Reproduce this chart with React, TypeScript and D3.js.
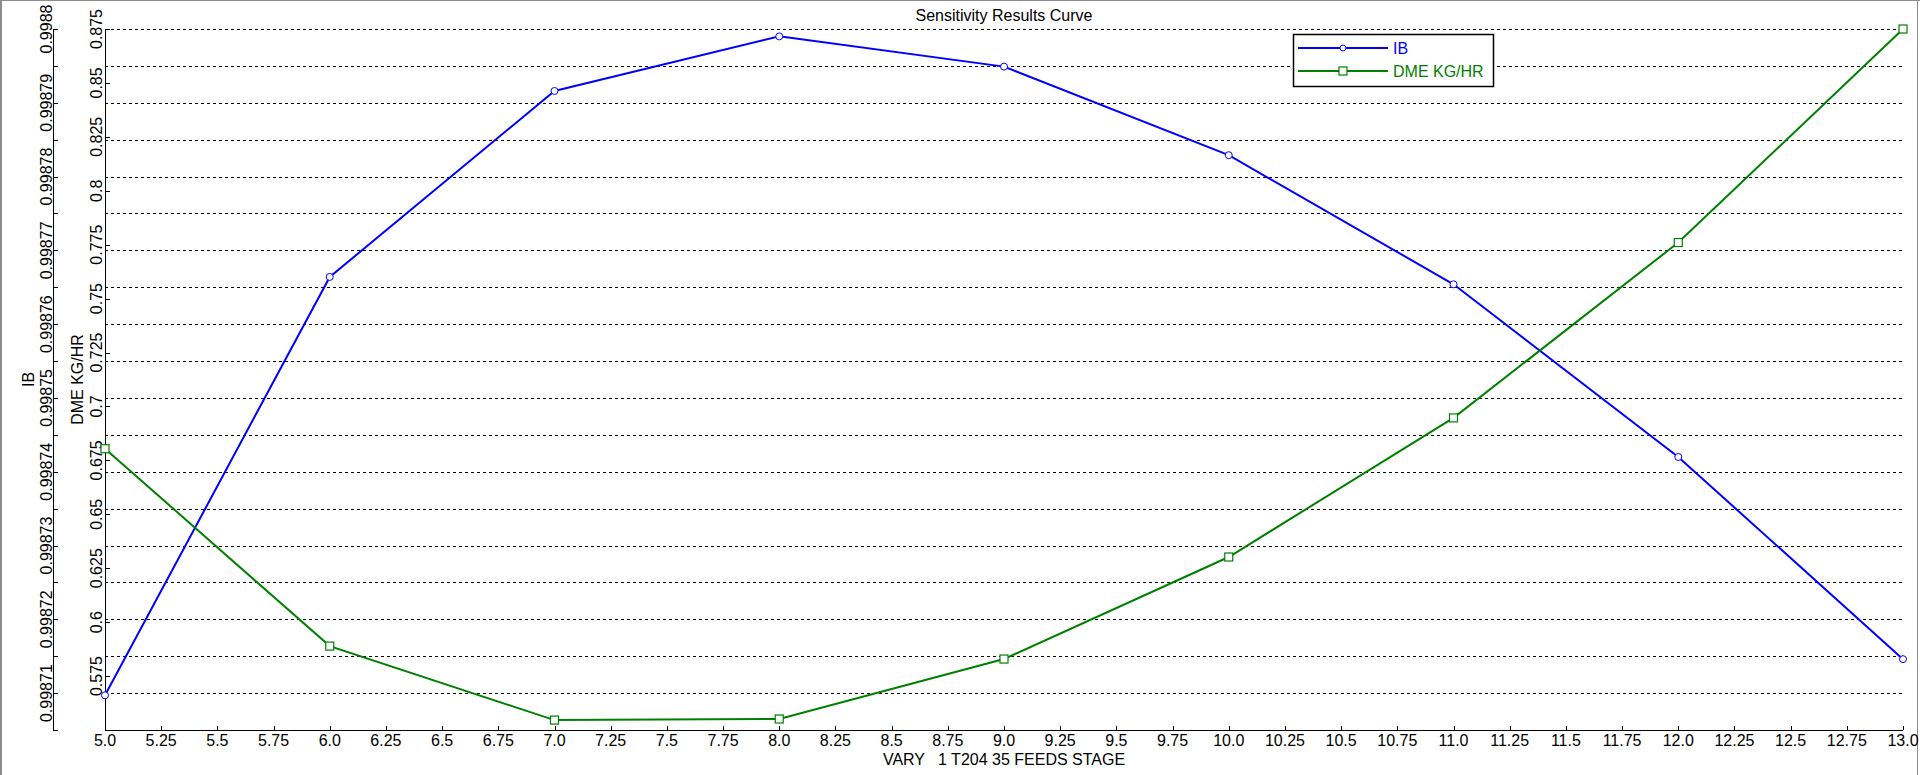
import React, { useEffect } from "react";
import * as d3 from "d3";

// --- Data ---
const stages = [5, 6, 7, 8, 9, 10, 11, 12, 13];
const ibValues = [
  0.9987097, 0.9987664, 0.9987916, 0.998799, 0.9987949, 0.9987829, 0.9987654,
  0.998742, 0.9987146,
];
const dmeValues = [
  0.6804, 0.5889, 0.5546, 0.5551, 0.5829, 0.6302, 0.6947, 0.776, 0.875,
];

// tick labels
const xTicks = [
  5, 5.25, 5.5, 5.75, 6, 6.25, 6.5, 6.75, 7, 7.25, 7.5, 7.75, 8, 8.25, 8.5,
  8.75, 9, 9.25, 9.5, 9.75, 10, 10.25, 10.5, 10.75, 11, 11.25, 11.5, 11.75, 12,
  12.25, 12.5, 12.75, 13,
];
const ibLabels = [
  0.99871, 0.99872, 0.99873, 0.99874, 0.99875, 0.99876, 0.99877, 0.99878,
  0.99879, 0.9988,
];
const dmeLabels = [
  0.575, 0.6, 0.625, 0.65, 0.675, 0.7, 0.725, 0.75, 0.775, 0.8, 0.825, 0.85,
  0.875,
];

const W = 1920;
const H = 775;
const margin = { top: 29, right: 17, bottom: 45, left: 105 };
const font = "Arial, 'Liberation Sans', sans-serif";
const BLUE = "#0000ff";
const GREEN = "#008000";

const App: React.FC = () => {
  useEffect(() => {
    document.body.style.margin = "0";
  }, []);

  const x = d3
    .scaleLinear()
    .domain([5, 13])
    .range([margin.left, W - margin.right]);
  const yIB = d3
    .scaleLinear()
    .domain([0.998705, 0.9988])
    .range([H - margin.bottom, margin.top]);
  const yDME = d3
    .scaleLinear()
    .domain([0.55, 0.875])
    .range([H - margin.bottom, margin.top]);

  // minor ticks on IB axis (every half label step), also used by the grid
  const ibMinor = d3.range(0, 20).map((i) => 0.998705 + i * 0.000005);

  const ibLine = d3
    .line<number>()
    .x((_, i) => x(stages[i]))
    .y((d) => yIB(d));
  const dmeLine = d3
    .line<number>()
    .x((_, i) => x(stages[i]))
    .y((d) => yDME(d));

  const fmtX = (v: number) => (Number.isInteger(v) ? v.toFixed(1) : String(v));
  const bottom = H - margin.bottom;
  const ibAxisX = 53;

  return (
    <svg width={W} height={H} style={{ display: "block", background: "#fff" }}>
      {/* window frame */}
      <line x1={1} y1={0} x2={1} y2={H} stroke="#8c8c8c" strokeWidth={2} />
      <line x1={0} y1={0.5} x2={W} y2={0.5} stroke="#8c8c8c" strokeWidth={1} />
      <line x1={1917.5} y1={0} x2={1917.5} y2={H} stroke="#8c8c8c" strokeWidth={1} />

      {/* title */}
      <text
        x={(margin.left + W - margin.right) / 2}
        y={21}
        textAnchor="middle"
        fontFamily={font}
        fontSize={16}
      >
        Sensitivity Results Curve
      </text>

      {/* grid */}
      {ibMinor.slice(1).map((v, i) => (
        <line
          key={"g" + i}
          x1={margin.left}
          x2={W - margin.right}
          y1={Math.round(yIB(v)) + 0.5}
          y2={Math.round(yIB(v)) + 0.5}
          stroke="#000"
          strokeDasharray="3,3"
        />
      ))}

      {/* x axis */}
      <line
        x1={margin.left}
        x2={W - margin.right}
        y1={bottom + 0.5}
        y2={bottom + 0.5}
        stroke="#000"
      />
      {xTicks.map((t) => (
        <g key={"x" + t}>
          <line
            x1={Math.round(x(t)) + 0.5}
            x2={Math.round(x(t)) + 0.5}
            y1={bottom}
            y2={bottom - 4}
            stroke="#000"
          />
          <text
            x={x(t)}
            y={746}
            textAnchor="middle"
            fontFamily={font}
            fontSize={16}
          >
            {fmtX(t)}
          </text>
        </g>
      ))}
      <text
        x={(margin.left + W - margin.right) / 2}
        y={765}
        textAnchor="middle"
        fontFamily={font}
        fontSize={16}
        style={{ whiteSpace: "pre" }}
      >
        {"VARY   1 T204 35 FEEDS STAGE"}
      </text>

      {/* IB axis */}
      <line
        x1={ibAxisX + 0.5}
        x2={ibAxisX + 0.5}
        y1={margin.top}
        y2={bottom}
        stroke="#000"
      />
      {ibMinor.concat([0.9988]).map((v, i) => (
        <line
          key={"ibt" + i}
          x1={ibAxisX}
          x2={ibAxisX + 5}
          y1={Math.round(yIB(v)) + 0.5}
          y2={Math.round(yIB(v)) + 0.5}
          stroke="#000"
        />
      ))}
      {ibLabels.map((v) => (
        <text
          key={"ibl" + v}
          transform={`translate(52,${yIB(v)}) rotate(-90)`}
          textAnchor="middle"
          fontFamily={font}
          fontSize={16}
        >
          {String(+v.toFixed(5))}
        </text>
      ))}
      <text
        transform={`translate(34,${(margin.top + bottom) / 2}) rotate(-90)`}
        textAnchor="middle"
        fontFamily={font}
        fontSize={16}
      >
        IB
      </text>

      {/* DME axis */}
      <line
        x1={margin.left + 0.5}
        x2={margin.left + 0.5}
        y1={margin.top}
        y2={bottom}
        stroke="#000"
      />
      {dmeLabels.concat([0.55]).map((v) => (
        <line
          key={"dt" + v}
          x1={margin.left}
          x2={margin.left + 5}
          y1={Math.round(yDME(v)) + 0.5}
          y2={Math.round(yDME(v)) + 0.5}
          stroke="#000"
        />
      ))}
      {dmeLabels.map((v) => (
        <text
          key={"dl" + v}
          transform={`translate(102,${yDME(v)}) rotate(-90)`}
          textAnchor="middle"
          fontFamily={font}
          fontSize={16}
        >
          {String(v)}
        </text>
      ))}
      <text
        transform={`translate(83,${(margin.top + bottom) / 2}) rotate(-90)`}
        textAnchor="middle"
        fontFamily={font}
        fontSize={16}
      >
        DME KG/HR
      </text>

      {/* series */}
      <path d={ibLine(ibValues) || ""} fill="none" stroke={BLUE} strokeWidth={2} />
      <path d={dmeLine(dmeValues) || ""} fill="none" stroke={GREEN} strokeWidth={2} />
      {ibValues.map((v, i) => (
        <circle
          key={"ibm" + i}
          cx={x(stages[i])}
          cy={yIB(v)}
          r={3.5}
          fill="#fff"
          stroke={BLUE}
          strokeWidth={1}
        />
      ))}
      {dmeValues.map((v, i) => (
        <rect
          key={"dm" + i}
          x={x(stages[i]) - 4}
          y={yDME(v) - 4}
          width={8}
          height={8}
          fill="#fff"
          stroke={GREEN}
          strokeWidth={1.2}
        />
      ))}

      {/* legend */}
      <g>
        <rect x={1293.5} y={34.5} width={200} height={52} fill="#fff" stroke="#000" strokeWidth={1.5} />
        <line x1={1298} x2={1388} y1={48} y2={48} stroke={BLUE} strokeWidth={2} />
        <circle cx={1343} cy={48} r={3} fill="#fff" stroke={BLUE} />
        <text x={1393} y={54} fontFamily={font} fontSize={16} fill={BLUE}>
          IB
        </text>
        <line x1={1298} x2={1388} y1={71} y2={71} stroke={GREEN} strokeWidth={2} />
        <rect x={1339} y={67} width={8} height={8} fill="#fff" stroke={GREEN} strokeWidth={1.2} />
        <text x={1393} y={77} fontFamily={font} fontSize={16} fill={GREEN}>
          DME KG/HR
        </text>
      </g>
    </svg>
  );
};

export default App;
